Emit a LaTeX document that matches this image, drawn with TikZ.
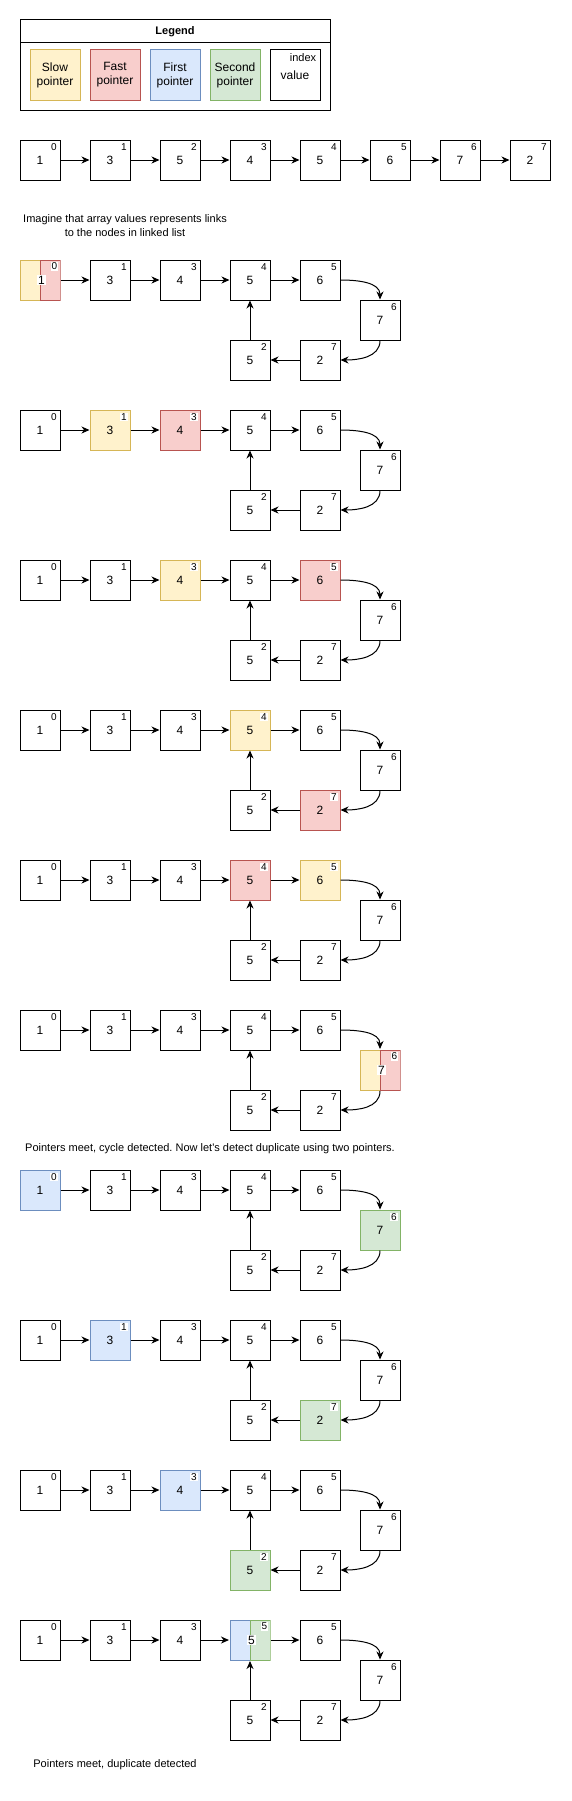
\documentclass[tikz,border=0pt]{standalone}
\usepackage{fontspec}
\setmainfont{Liberation Sans}
\usepackage{tikz}
\usetikzlibrary{arrows.meta}
\definecolor{slowfill}{HTML}{FFF2CC}
\definecolor{slowline}{HTML}{D6B656}
\definecolor{fastfill}{HTML}{F8CECC}
\definecolor{fastline}{HTML}{B85450}
\definecolor{firstfill}{HTML}{DAE8FC}
\definecolor{firstline}{HTML}{6C8EBF}
\definecolor{secondfill}{HTML}{D5E8D4}
\definecolor{secondline}{HTML}{82B366}
\setlength{\fboxsep}{1pt}
\frenchspacing

\begin{document}
\begin{tikzpicture}[x=1pt,y=1pt,font=\fontsize{12}{14}\selectfont]
\tikzset{box/.style=
            {draw,fill=white,line width=1pt,minimum size=40pt,inner sep=0pt},
         key/.style=
            {draw,line width=1pt,minimum size=50pt,inner sep=0pt,align=center},
         idx/.style=
            {fill=white,inner sep=0.8pt,anchor=center,xshift=-6.5pt,yshift=-7.5pt,
             font=\fontsize{10}{12}\selectfont},
         slow/.style={fill=slowfill,draw=slowline},
         fast/.style={fill=fastfill,draw=fastline},
         first/.style={fill=firstfill,draw=firstline},
         second/.style={fill=secondfill,draw=secondline},
         halves/.style 2 args=
            {draw=none,fill=none,minimum size=41pt,
             path picture={
               \draw[#1,line width=1pt] ([shift={(0.5pt,0.5pt)}]path picture bounding box.south west)
                   rectangle ([yshift=-0.5pt]path picture bounding box.north);
               \draw[#2,line width=1pt] ([yshift=0.5pt]path picture bounding box.south)
                   rectangle ([shift={(-0.5pt,-0.5pt)}]path picture bounding box.north east);}},
         link/.style={-{Stealth[length=8pt,width=7pt,inset=2.5pt]},line width=1pt},
         note/.style={align=center,font=\fontsize{11}{13.3}\selectfont}}
\useasboundingbox (0,0) rectangle (572,-1801);

% legend
\node[draw,line width=1pt,minimum width=310pt,minimum height=90pt,inner sep=0pt,outer sep=0pt] (legend) at (175,-65) {};
\node[font=\bfseries\fontsize{11}{13}\selectfont] (legendtitle) at (175,-31.5) {Legend};
\draw[line width=1pt] (legend.west |- 0,-43) -- (legend.east |- 0,-43);
\node[key,slow] (keyslow) at (55,-75) {Slow\\pointer};
\node[key,fast] (keyfast) at (115,-75) {Fast\\pointer};
\node[key,first] (keyfirst) at (175,-75) {First\\pointer};
\node[key,second] (keysecond) at (235,-75) {Second\\pointer};
\node[key] (keyvalue) at (295,-75) {value};
\node[font=\fontsize{11}{13}\selectfont] (keyindex) at (303,-57.5) {index};

% the array
\node[box,label={[idx]north east:0}] (r0) at (40,-160) {1};
\node[box,label={[idx]north east:1}] (r1) at (110,-160) {3};
\node[box,label={[idx]north east:2}] (r2) at (180,-160) {5};
\node[box,label={[idx]north east:3}] (r3) at (250,-160) {4};
\node[box,label={[idx]north east:4}] (r4) at (320,-160) {5};
\node[box,label={[idx]north east:5}] (r5) at (390,-160) {6};
\node[box,label={[idx]north east:6}] (r6) at (460,-160) {7};
\node[box,label={[idx]north east:7}] (r7) at (530,-160) {2};
\draw[link] (r0) edge (r1) (r1) edge (r2) (r2) edge (r3) (r3) edge (r4) (r4) edge (r5) (r5) edge (r6) (r6) edge (r7);
\node[note] (imagine) at (125,-225.5) {Imagine that array values represents links\\to the nodes in linked list};

% slow and fast pointer
\begin{scope}[shift={(0,-260)}]
\node[box,halves={slow}{fast},label={[idx]north east:0}] (a0) at (40,-20) {\hspace*{3pt}\colorbox{white}{1}};
\node[box,label={[idx]north east:1}] (a1) at (110,-20) {3};
\node[box,label={[idx]north east:3}] (a3) at (180,-20) {4};
\node[box,label={[idx]north east:4}] (a4) at (250,-20) {5};
\node[box,label={[idx]north east:5}] (a5) at (320,-20) {6};
\node[box,label={[idx]north east:6}] (a6) at (380,-60) {7};
\node[box,label={[idx]north east:7}] (a7) at (320,-100) {2};
\node[box,label={[idx]north east:2}] (a2) at (250,-100) {5};
\draw[link] (a0) edge (a1) (a1) edge (a3) (a3) edge (a4) (a4) edge (a5) (a5) edge[out=0,in=90] (a6)
            (a6) edge[out=-90,in=0] (a7) (a7) edge (a2) (a2) edge (a4);
\end{scope}

\begin{scope}[shift={(0,-410)}]
\node[box,label={[idx]north east:0}] (b0) at (40,-20) {1};
\node[box,slow,label={[idx]north east:1}] (b1) at (110,-20) {3};
\node[box,fast,label={[idx]north east:3}] (b3) at (180,-20) {4};
\node[box,label={[idx]north east:4}] (b4) at (250,-20) {5};
\node[box,label={[idx]north east:5}] (b5) at (320,-20) {6};
\node[box,label={[idx]north east:6}] (b6) at (380,-60) {7};
\node[box,label={[idx]north east:7}] (b7) at (320,-100) {2};
\node[box,label={[idx]north east:2}] (b2) at (250,-100) {5};
\draw[link] (b0) edge (b1) (b1) edge (b3) (b3) edge (b4) (b4) edge (b5) (b5) edge[out=0,in=90] (b6)
            (b6) edge[out=-90,in=0] (b7) (b7) edge (b2) (b2) edge (b4);
\end{scope}

\begin{scope}[shift={(0,-560)}]
\node[box,label={[idx]north east:0}] (c0) at (40,-20) {1};
\node[box,label={[idx]north east:1}] (c1) at (110,-20) {3};
\node[box,slow,label={[idx]north east:3}] (c3) at (180,-20) {4};
\node[box,label={[idx]north east:4}] (c4) at (250,-20) {5};
\node[box,fast,label={[idx]north east:5}] (c5) at (320,-20) {6};
\node[box,label={[idx]north east:6}] (c6) at (380,-60) {7};
\node[box,label={[idx]north east:7}] (c7) at (320,-100) {2};
\node[box,label={[idx]north east:2}] (c2) at (250,-100) {5};
\draw[link] (c0) edge (c1) (c1) edge (c3) (c3) edge (c4) (c4) edge (c5) (c5) edge[out=0,in=90] (c6)
            (c6) edge[out=-90,in=0] (c7) (c7) edge (c2) (c2) edge (c4);
\end{scope}

\begin{scope}[shift={(0,-710)}]
\node[box,label={[idx]north east:0}] (d0) at (40,-20) {1};
\node[box,label={[idx]north east:1}] (d1) at (110,-20) {3};
\node[box,label={[idx]north east:3}] (d3) at (180,-20) {4};
\node[box,slow,label={[idx]north east:4}] (d4) at (250,-20) {5};
\node[box,label={[idx]north east:5}] (d5) at (320,-20) {6};
\node[box,label={[idx]north east:6}] (d6) at (380,-60) {7};
\node[box,fast,label={[idx]north east:7}] (d7) at (320,-100) {2};
\node[box,label={[idx]north east:2}] (d2) at (250,-100) {5};
\draw[link] (d0) edge (d1) (d1) edge (d3) (d3) edge (d4) (d4) edge (d5) (d5) edge[out=0,in=90] (d6)
            (d6) edge[out=-90,in=0] (d7) (d7) edge (d2) (d2) edge (d4);
\end{scope}

\begin{scope}[shift={(0,-860)}]
\node[box,label={[idx]north east:0}] (e0) at (40,-20) {1};
\node[box,label={[idx]north east:1}] (e1) at (110,-20) {3};
\node[box,label={[idx]north east:3}] (e3) at (180,-20) {4};
\node[box,fast,label={[idx]north east:4}] (e4) at (250,-20) {5};
\node[box,slow,label={[idx]north east:5}] (e5) at (320,-20) {6};
\node[box,label={[idx]north east:6}] (e6) at (380,-60) {7};
\node[box,label={[idx]north east:7}] (e7) at (320,-100) {2};
\node[box,label={[idx]north east:2}] (e2) at (250,-100) {5};
\draw[link] (e0) edge (e1) (e1) edge (e3) (e3) edge (e4) (e4) edge (e5) (e5) edge[out=0,in=90] (e6)
            (e6) edge[out=-90,in=0] (e7) (e7) edge (e2) (e2) edge (e4);
\end{scope}

\begin{scope}[shift={(0,-1010)}]
\node[box,label={[idx]north east:0}] (f0) at (40,-20) {1};
\node[box,label={[idx]north east:1}] (f1) at (110,-20) {3};
\node[box,label={[idx]north east:3}] (f3) at (180,-20) {4};
\node[box,label={[idx]north east:4}] (f4) at (250,-20) {5};
\node[box,label={[idx]north east:5}] (f5) at (320,-20) {6};
\node[box,halves={slow}{fast},label={[idx]north east:6}] (f6) at (380,-60) {\hspace*{3pt}\colorbox{white}{7}};
\node[box,label={[idx]north east:7}] (f7) at (320,-100) {2};
\node[box,label={[idx]north east:2}] (f2) at (250,-100) {5};
\draw[link] (f0) edge (f1) (f1) edge (f3) (f3) edge (f4) (f4) edge (f5) (f5) edge[out=0,in=90] (f6)
            (f6) edge[out=-90,in=0] (f7) (f7) edge (f2) (f2) edge (f4);
\end{scope}
\node[note] (cycle) at (210,-1149) {Pointers meet, cycle detected. Now let\textquotesingle s detect duplicate using two pointers.};

% first and second pointer
\begin{scope}[shift={(0,-1170)}]
\node[box,first,label={[idx]north east:0}] (g0) at (40,-20) {1};
\node[box,label={[idx]north east:1}] (g1) at (110,-20) {3};
\node[box,label={[idx]north east:3}] (g3) at (180,-20) {4};
\node[box,label={[idx]north east:4}] (g4) at (250,-20) {5};
\node[box,label={[idx]north east:5}] (g5) at (320,-20) {6};
\node[box,second,label={[idx]north east:6}] (g6) at (380,-60) {7};
\node[box,label={[idx]north east:7}] (g7) at (320,-100) {2};
\node[box,label={[idx]north east:2}] (g2) at (250,-100) {5};
\draw[link] (g0) edge (g1) (g1) edge (g3) (g3) edge (g4) (g4) edge (g5) (g5) edge[out=0,in=90] (g6)
            (g6) edge[out=-90,in=0] (g7) (g7) edge (g2) (g2) edge (g4);
\end{scope}

\begin{scope}[shift={(0,-1320)}]
\node[box,label={[idx]north east:0}] (h0) at (40,-20) {1};
\node[box,first,label={[idx]north east:1}] (h1) at (110,-20) {3};
\node[box,label={[idx]north east:3}] (h3) at (180,-20) {4};
\node[box,label={[idx]north east:4}] (h4) at (250,-20) {5};
\node[box,label={[idx]north east:5}] (h5) at (320,-20) {6};
\node[box,label={[idx]north east:6}] (h6) at (380,-60) {7};
\node[box,second,label={[idx]north east:7}] (h7) at (320,-100) {2};
\node[box,label={[idx]north east:2}] (h2) at (250,-100) {5};
\draw[link] (h0) edge (h1) (h1) edge (h3) (h3) edge (h4) (h4) edge (h5) (h5) edge[out=0,in=90] (h6)
            (h6) edge[out=-90,in=0] (h7) (h7) edge (h2) (h2) edge (h4);
\end{scope}

\begin{scope}[shift={(0,-1470)}]
\node[box,label={[idx]north east:0}] (i0) at (40,-20) {1};
\node[box,label={[idx]north east:1}] (i1) at (110,-20) {3};
\node[box,first,label={[idx]north east:3}] (i3) at (180,-20) {4};
\node[box,label={[idx]north east:4}] (i4) at (250,-20) {5};
\node[box,label={[idx]north east:5}] (i5) at (320,-20) {6};
\node[box,label={[idx]north east:6}] (i6) at (380,-60) {7};
\node[box,label={[idx]north east:7}] (i7) at (320,-100) {2};
\node[box,second,label={[idx]north east:2}] (i2) at (250,-100) {5};
\draw[link] (i0) edge (i1) (i1) edge (i3) (i3) edge (i4) (i4) edge (i5) (i5) edge[out=0,in=90] (i6)
            (i6) edge[out=-90,in=0] (i7) (i7) edge (i2) (i2) edge (i4);
\end{scope}

\begin{scope}[shift={(0,-1620)}]
\node[box,label={[idx]north east:0}] (j0) at (40,-20) {1};
\node[box,label={[idx]north east:1}] (j1) at (110,-20) {3};
\node[box,label={[idx]north east:3}] (j3) at (180,-20) {4};
\node[box,halves={first}{second},label={[idx]north east:5}] (j4) at (250,-20) {\hspace*{3pt}\colorbox{white}{5}};
\node[box,label={[idx]north east:5}] (j5) at (320,-20) {6};
\node[box,label={[idx]north east:6}] (j6) at (380,-60) {7};
\node[box,label={[idx]north east:7}] (j7) at (320,-100) {2};
\node[box,label={[idx]north east:2}] (j2) at (250,-100) {5};
\draw[link] (j0) edge (j1) (j1) edge (j3) (j3) edge (j4) (j4) edge (j5) (j5) edge[out=0,in=90] (j6)
            (j6) edge[out=-90,in=0] (j7) (j7) edge (j2) (j2) edge (j4);
\end{scope}
\node[note] (duplicate) at (115,-1765) {Pointers meet, duplicate detected};
\end{tikzpicture}
\end{document}
